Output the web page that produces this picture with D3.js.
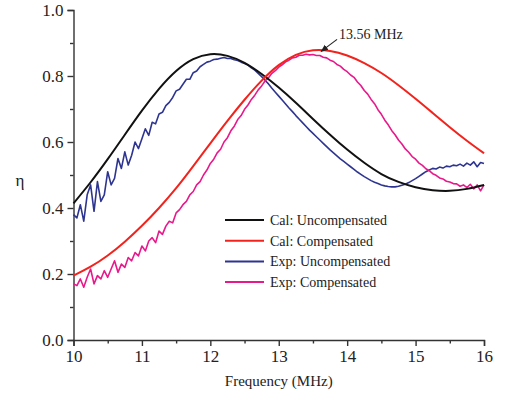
<!DOCTYPE html>
<html>
<head>
<meta charset="utf-8">
<script src="https://cdn.jsdelivr.net/npm/d3@7"></script>
<style>
  body { margin: 0; background: #fff; }
  svg text { font-family: "Liberation Serif", "Times New Roman", serif; fill: #222; }
</style>
</head>
<body>
<div id="chart"></div>
<script>
// calculated curves, every 0.25 MHz from 10 to 16
const calFreq = [10, 10.25, 10.5, 10.75, 11, 11.25, 11.5, 11.75, 12, 12.25, 12.5, 12.75, 13,
    13.25, 13.5, 13.75, 14, 14.25, 14.5, 14.75, 15, 15.25, 15.5, 15.75, 16];
const calUncomp = [0.414, 0.478, 0.548, 0.622, 0.695, 0.761, 0.815, 0.851, 0.866, 0.861, 0.84, 0.806, 0.765,
    0.719, 0.67, 0.622, 0.577, 0.537, 0.503, 0.479, 0.463, 0.454, 0.452, 0.458, 0.47];
const calComp = [0.195, 0.222, 0.256, 0.298, 0.346, 0.40, 0.46, 0.527, 0.596, 0.664, 0.728, 0.786, 0.833,
    0.864, 0.878, 0.876, 0.862, 0.839, 0.809, 0.772, 0.731, 0.688, 0.645, 0.604, 0.566];

// measured curves, every 0.05 MHz from 10 to 16
const expFreq = d3.range(0, 121).map(i => +(10 + i * 0.05).toFixed(2));
const expUncomp = [
    0.38, 0.37, 0.41, 0.36, 0.44, 0.47, 0.39, 0.48, 0.42, 0.44,
    0.51, 0.47, 0.49, 0.55, 0.52, 0.57, 0.53, 0.56, 0.60, 0.58,
    0.61, 0.64, 0.62, 0.66, 0.655, 0.685, 0.69, 0.71, 0.72, 0.735,
    0.755, 0.76, 0.775, 0.79, 0.79, 0.81, 0.815, 0.828, 0.835, 0.842,
    0.845, 0.85, 0.851, 0.854, 0.856, 0.853, 0.853, 0.849, 0.847, 0.842,
    0.838, 0.833, 0.825, 0.818, 0.808, 0.798, 0.787, 0.776, 0.763, 0.751,
    0.739, 0.727, 0.715, 0.703, 0.692, 0.68, 0.669, 0.658, 0.647, 0.636,
    0.626, 0.616, 0.606, 0.596, 0.586, 0.576, 0.567, 0.558, 0.549, 0.541,
    0.533, 0.525, 0.517, 0.509, 0.502, 0.495, 0.489, 0.483, 0.478, 0.474,
    0.470, 0.467, 0.465, 0.464, 0.464, 0.466, 0.469, 0.472, 0.477, 0.483,
    0.489, 0.496, 0.503, 0.51, 0.515, 0.52, 0.518, 0.524, 0.521, 0.527,
    0.525, 0.53, 0.528, 0.533, 0.527, 0.536, 0.53, 0.54, 0.525, 0.538,
    0.535];
const expComp = [
    0.17, 0.165, 0.185, 0.16, 0.19, 0.215, 0.17, 0.195, 0.185, 0.21,
    0.19, 0.215, 0.24, 0.205, 0.23, 0.22, 0.25, 0.24, 0.265, 0.255,
    0.285, 0.27, 0.30, 0.31, 0.295, 0.33, 0.32, 0.345, 0.36, 0.355,
    0.385, 0.395, 0.41, 0.42, 0.44, 0.45, 0.47, 0.48, 0.50, 0.515,
    0.535, 0.548, 0.567, 0.578, 0.6, 0.613, 0.634, 0.648, 0.668, 0.68,
    0.699, 0.712, 0.729, 0.742, 0.758, 0.77, 0.785, 0.795, 0.808, 0.816,
    0.827, 0.834, 0.843, 0.848, 0.855, 0.857, 0.863, 0.863, 0.866, 0.864,
    0.865, 0.862, 0.862, 0.857, 0.855, 0.848, 0.844, 0.835, 0.83, 0.82,
    0.813, 0.803, 0.796, 0.782, 0.771, 0.756, 0.745, 0.729, 0.716, 0.698,
    0.684, 0.666, 0.652, 0.635, 0.622, 0.606, 0.594, 0.579, 0.569, 0.556,
    0.548, 0.536, 0.529, 0.519, 0.513, 0.504, 0.499, 0.491, 0.488, 0.481,
    0.479, 0.474, 0.473, 0.466, 0.47, 0.462, 0.472, 0.458, 0.47, 0.452,
    0.47];

const seriesNames = ['Cal: Uncompensated', 'Cal: Compensated', 'Exp: Uncompensated', 'Exp: Compensated'];
const seriesColors = ['#111111', '#f2231c', '#2e3590', '#e8198b'];
const xTicks = [10, 11, 12, 13, 14, 15, 16];
const yTicks = [0.0, 0.2, 0.4, 0.6, 0.8, 1.0];
const markFreq = 13.56;

const W = 505, H = 396;
const margin = { top: 10, right: 21, bottom: 56, left: 73.5 };
const width = W - margin.left - margin.right;
const height = H - margin.top - margin.bottom;

const svg = d3.select('#chart').append('svg')
    .attr('width', W)
    .attr('height', H);
const g = svg.append('g')
    .attr('transform', `translate(${margin.left},${margin.top})`);

const x = d3.scaleLinear().domain([10, 16]).range([0, width]);
const y = d3.scaleLinear().domain([0, 1]).range([height, 0]);

// axes
const xAxis = g.append('g')
    .attr('transform', `translate(0,${height})`)
    .call(d3.axisBottom(x).tickValues(xTicks).tickSize(6).tickPadding(4).tickFormat(d3.format('d')));
g.append('g')
    .attr('transform', `translate(0,${height})`)
    .call(d3.axisBottom(x).tickValues(d3.range(10.5, 16, 1)).tickSize(3.5).tickFormat(''))
    .select('.domain').remove();
const yAxis = g.append('g')
    .call(d3.axisLeft(y).tickValues(yTicks).tickSize(6).tickPadding(4).tickFormat(d3.format('.1f')));
g.append('g')
    .call(d3.axisLeft(y).tickValues(d3.range(0.1, 1, 0.2)).tickSize(3.5).tickFormat(''))
    .select('.domain').remove();

g.selectAll('.domain').attr('stroke', '#333').attr('stroke-width', 1.4);
g.selectAll('.tick line').attr('stroke', '#333').attr('stroke-width', 1.4);
xAxis.selectAll('.tick text').style('font-size', '17px').style('font-family', 'Liberation Serif');
yAxis.selectAll('.tick text').style('font-size', '17px').style('font-family', 'Liberation Serif');

// axis titles
svg.append('text')
    .attr('x', margin.left + width / 2)
    .attr('y', 386)
    .attr('text-anchor', 'middle')
    .style('font-size', '15px')
    .text('Frequency (MHz)');
svg.append('text')
    .attr('x', 20)
    .attr('y', 186)
    .attr('text-anchor', 'middle')
    .style('font-size', '17px')
    .text('η');

// curves
const line = d3.line()
    .x(d => x(d[0]))
    .y(d => y(d[1]));

const series = [
    { data: d3.zip(calFreq, calUncomp), curve: d3.curveNatural, w: 2 },
    { data: d3.zip(calFreq, calComp), curve: d3.curveNatural, w: 2 },
    { data: d3.zip(expFreq, expUncomp), curve: d3.curveLinear, w: 1.6 },
    { data: d3.zip(expFreq, expComp), curve: d3.curveLinear, w: 1.6 }
];

// draw cal curves last so they sit on top of the measured ones
[2, 3, 0, 1].forEach(i => {
    g.append('path')
        .datum(series[i].data)
        .attr('fill', 'none')
        .attr('stroke', seriesColors[i])
        .attr('stroke-width', series[i].w)
        .attr('stroke-linejoin', 'round')
        .attr('d', line.curve(series[i].curve));
});

// 13.56 MHz annotation
const markY = d3.scaleLinear().domain(calFreq).range(calComp)(markFreq);
const px = x(markFreq) + 4, py = y(markY) + 1;
svg.append('defs').append('marker')
    .attr('id', 'arrow')
    .attr('viewBox', '0 0 10 10')
    .attr('refX', 9).attr('refY', 5)
    .attr('markerWidth', 7).attr('markerHeight', 7)
    .attr('orient', 'auto')
    .append('path')
    .attr('d', 'M0,1 L10,5 L0,9 z')
    .attr('fill', '#222');
g.append('line')
    .attr('x1', px + 16).attr('y1', py - 12)
    .attr('x2', px).attr('y2', py)
    .attr('stroke', '#222')
    .attr('stroke-width', 1.1)
    .attr('marker-end', 'url(#arrow)');
g.append('text')
    .attr('x', px + 18)
    .attr('y', py - 12)
    .style('font-size', '14px')
    .text(markFreq.toFixed(2) + ' MHz');

// legend
const legend = svg.append('g').attr('transform', 'translate(225,220)');
seriesNames.forEach((name, i) => {
    const row = legend.append('g').attr('transform', `translate(0,${i * 20.7})`);
    row.append('line')
        .attr('x1', 0).attr('x2', 39)
        .attr('stroke', seriesColors[i])
        .attr('stroke-width', 2);
    row.append('text')
        .attr('x', 45)
        .attr('y', 5)
        .style('font-size', '14px')
        .text(name);
});
</script>
</body>
</html>
